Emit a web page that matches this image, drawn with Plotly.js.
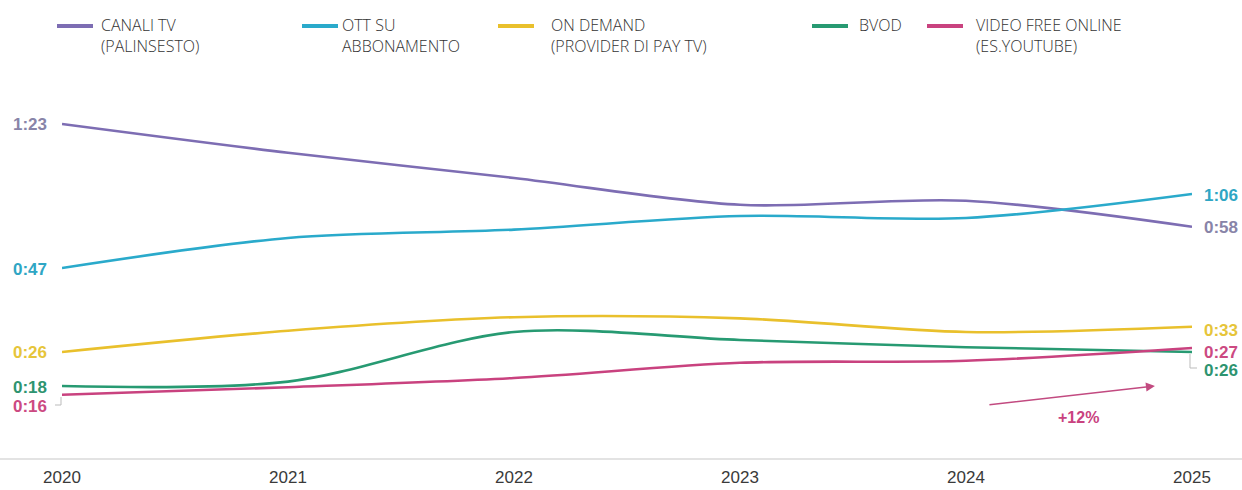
<!DOCTYPE html>
<html>
<head>
<meta charset="utf-8">
<script src="https://cdn.plot.ly/plotly-3.0.1.min.js"></script>
<style>
html,body{margin:0;padding:0;background:#fff;}
#chart{width:1242px;height:490px;}
</style>
</head>
<body>
<div id="chart"></div>
<script>
// ---- data (minutes per day) ----
const years = [2020, 2021, 2022, 2023, 2024, 2025];
const yearLabels = ['2020', '2021', '2022', '2023', '2024', '2025'];
const seriesNames = ['CANALI TV<br>(PALINSESTO)', 'OTT SU<br>ABBONAMENTO', 'ON DEMAND<br>(PROVIDER DI PAY TV)', 'BVOD', 'VIDEO FREE ONLINE<br>(ES.YOUTUBE)'];
const canaliTV   = [83, 75.8, 69.5, 62.8, 63.8, 57.3];
const ottAbb     = [47, 54.5, 56.6, 60, 59.5, 65.5];
const onDemand   = [26, 31.3, 34.7, 34.4, 31, 32.3];
const bvod       = [17.5, 18.6, 31, 29, 27.2, 26];
const videoFree  = [15.3, 17.2, 19.5, 23.3, 23.8, 27];
const startLabels = ['1:23', '0:47', '0:26', '0:18', '0:16'];
const endLabels   = ['0:58', '1:06', '0:33', '0:26', '0:27'];
const growthLabel = '+12%';

const colors = ['#7d6db3', '#2aaacb', '#e9c02c', '#279a72', '#c9427f'];
const labelColors = ['#8884a8', '#2fa6c4', '#e6c53a', '#2e9470', '#cc4a82'];
const allSeries = [canaliTV, ottAbb, onDemand, bvod, videoFree];

// layout geometry
const W = 1242, H = 490;
const mL = 62, mR = 50, mT = 100, mB = 31;
const pw = W - mL - mR, ph = H - mT - mB;
const px = x => (x - mL) / pw;           // pixel -> paper x
const py = y => (H - mB - y) / ph;       // pixel -> paper y

const traces = allSeries.map((s, i) => ({
  x: years, y: s, type: 'scatter', mode: 'lines',
  line: {color: colors[i], width: 2.6, shape: 'spline', smoothing: 0.9},
  name: seriesNames[i], hoverinfo: 'skip', showlegend: false
}));

const annFont = c => ({family: 'Liberation Sans, Arial, sans-serif', size: 17, color: c, weight: 'bold'});
const annotations = [];
const shapes = [];

// start / end value labels
const startShift = [0, -1, 0, -1, -12];
const endShift = [-1, -1, -4, -18, -4];
allSeries.forEach((s, i) => {
  annotations.push({x: years[0], y: s[0], xref: 'x', yref: 'y', text: '<b>' + startLabels[i] + '</b>',
    showarrow: false, xanchor: 'right', yanchor: 'middle', xshift: -13, yshift: startShift[i], font: annFont(labelColors[i])});
  annotations.push({x: years[years.length - 1], y: s[s.length - 1], xref: 'x', yref: 'y', text: '<b>' + endLabels[i] + '</b>',
    showarrow: false, xanchor: 'left', yanchor: 'middle', xshift: 10, yshift: endShift[i], font: annFont(labelColors[i])});
});

// small connectors
shapes.push({type: 'path', xref: 'paper', yref: 'paper', path:
  `M ${px(61)} ${py(397)} L ${px(61)} ${py(405)} L ${px(55)} ${py(405)}`, line: {color: '#bbbbbb', width: 1}});
shapes.push({type: 'path', xref: 'paper', yref: 'paper', path:
  `M ${px(1190)} ${py(354)} L ${px(1190)} ${py(368)} L ${px(1197)} ${py(368)}`, line: {color: '#bbbbbb', width: 1}});

// growth arrow
annotations.push({x: 2024.836, y: 17.5, ax: 2024.097, ay: 12.75, xref: 'x', yref: 'y', axref: 'x', ayref: 'y',
  text: '', showarrow: true, arrowhead: 2, arrowsize: 1.2, arrowwidth: 1.5, arrowcolor: '#c24a80'});
annotations.push({x: 2024.496, y: 9.75, xref: 'x', yref: 'y', text: '<b>' + growthLabel + '</b>', showarrow: false,
  font: {family: 'Liberation Sans, Arial, sans-serif', size: 16, color: '#c9427f', weight: 'bold'}});

// baseline across full width
shapes.push({type: 'line', xref: 'paper', yref: 'paper', x0: px(0), x1: px(W), y0: py(459), y1: py(459),
  line: {color: '#e3e3e3', width: 2}});

// custom legend
const legX = [57, 302, 498, 812, 927];
const legTextX = [100, 341, 550, 858, 975];
seriesNames.forEach((n, i) => {
  shapes.push({type: 'line', xref: 'paper', yref: 'paper', x0: px(legX[i]), x1: px(legX[i] + 36),
    y0: py(26), y1: py(26), line: {color: colors[i], width: 4}});
  annotations.push({x: px(legTextX[i]), y: py(13), xref: 'paper', yref: 'paper', text: n, showarrow: false,
    xanchor: 'left', yanchor: 'top', align: 'left', borderpad: 0,
    font: {family: 'Open Sans, Lato, sans-serif', size: 16, color: '#333', weight: 300}});
});

const layout = {
  width: W, height: H,
  margin: {l: mL, r: mR, t: mT, b: mB},
  paper_bgcolor: '#ffffff', plot_bgcolor: '#ffffff',
  showlegend: false,
  xaxis: {range: [2020, 2025], tickvals: years, ticktext: yearLabels, showgrid: false, zeroline: false,
    showline: false, ticks: 'outside', ticklen: 3, tickcolor: 'rgba(0,0,0,0)',
    tickfont: {family: 'Liberation Sans Narrow, Arial Narrow, Liberation Sans, sans-serif', size: 17, color: '#3a3a3a'},
    fixedrange: true},
  yaxis: {range: [-0.75, 89], visible: false, showgrid: false, zeroline: false, fixedrange: true},
  annotations: annotations,
  shapes: shapes
};

Plotly.newPlot('chart', traces, layout, {displayModeBar: false, staticPlot: true});
</script>
</body>
</html>
